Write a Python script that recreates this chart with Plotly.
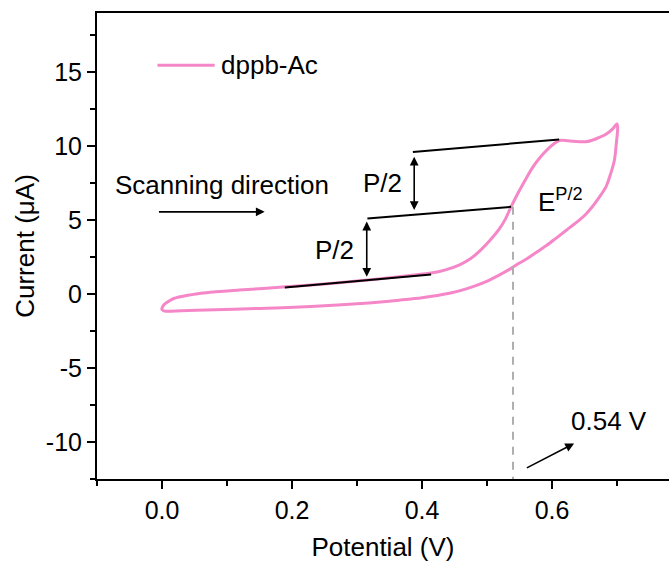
import plotly.graph_objects as go

# ---- data ----
series_name = "dppb-Ac"
fwd_V = [0.000, 0.003, 0.008, 0.018, 0.040, 0.068, 0.119, 0.191, 0.250, 0.300, 0.365, 0.414,
         0.435, 0.457, 0.475, 0.491, 0.505, 0.519, 0.528, 0.537, 0.548, 0.560, 0.570, 0.581,
         0.596, 0.611, 0.625, 0.642, 0.655, 0.668, 0.683, 0.693, 0.700]
fwd_I = [-0.95, -0.72, -0.55, -0.30, -0.08, 0.09, 0.27, 0.49, 0.68, 0.88, 1.18, 1.42,
         1.62, 1.96, 2.40, 3.00, 3.65, 4.40, 5.05, 5.90, 6.85, 7.80, 8.55, 9.20,
         9.90, 10.38, 10.36, 10.30, 10.32, 10.50, 10.80, 11.15, 11.50]
rev_V = [0.701, 0.699, 0.696, 0.690, 0.683, 0.672, 0.662, 0.652, 0.642, 0.631, 0.620, 0.604,
         0.592, 0.581, 0.570, 0.560, 0.548, 0.537, 0.515, 0.493, 0.468, 0.442, 0.400, 0.365,
         0.300, 0.221, 0.150, 0.068, 0.030, 0.004, 0.000]
rev_I = [11.2, 10.2, 9.05, 8.1, 7.25, 6.5, 5.9, 5.4, 5.0, 4.62, 4.25, 3.70,
         3.30, 2.97, 2.65, 2.35, 2.05, 1.74, 1.20, 0.74, 0.35, 0.05, -0.25, -0.41,
         -0.66, -0.86, -0.97, -1.08, -1.12, -1.15, -1.05]

baseline_V = [0.189, 0.414]
baseline_I = [0.45, 1.33]
halfline_V = [0.316, 0.537]
halfline_I = [5.11, 5.90]
peakline_V = [0.386, 0.611]
peakline_I = [9.61, 10.45]
E_half = 0.54
E_half_I = 5.90

x_ticks = [0.0, 0.2, 0.4, 0.6]
x_tick_labels = ["0.0", "0.2", "0.4", "0.6"]
y_ticks = [-10, -5, 0, 5, 10, 15]
y_tick_labels = ["-10", "-5", "0", "5", "10", "15"]

PINK = "rgb(245,135,200)"
FONT = "Liberation Sans, Arial, sans-serif"

fig = go.Figure()

V_all = fwd_V + rev_V + [fwd_V[0]]
I_all = fwd_I + rev_I + [fwd_I[0]]
fig.add_trace(go.Scatter(x=V_all, y=I_all, mode="lines", name=series_name,
                         line=dict(color=PINK, width=3, shape="spline", smoothing=0.8),
                         showlegend=False, hoverinfo="skip"))

for xs, ys in [(baseline_V, baseline_I), (halfline_V, halfline_I), (peakline_V, peakline_I)]:
    fig.add_trace(go.Scatter(x=xs, y=ys, mode="lines", line=dict(color="black", width=2),
                             showlegend=False, hoverinfo="skip"))

# dashed vertical at E^{P/2}
fig.add_trace(go.Scatter(x=[E_half, E_half], y=[E_half_I, -12.5], mode="lines",
                         line=dict(color="rgb(175,175,175)", width=2, dash="8px,7px"),
                         showlegend=False, hoverinfo="skip"))

# legend entry drawn by hand (longer line sample than plotly's legend)
fig.add_trace(go.Scatter(x=[-0.007, 0.081], y=[15.47, 15.47], mode="lines",
                         line=dict(color=PINK, width=3), showlegend=False, hoverinfo="skip"))

annotations = []
def txt(x, y, s, xanchor="center", size=26):
    annotations.append(dict(x=x, y=y, xref="x", yref="y", text=s, showarrow=False,
                            xanchor=xanchor, yanchor="middle",
                            font=dict(family=FONT, size=size, color="black")))

def arrow(x0, y0, x1, y1, both=False):
    annotations.append(dict(x=x1, y=y1, ax=x0, ay=y0, xref="x", yref="y", axref="x", ayref="y",
                            text="", showarrow=True, arrowhead=2, arrowsize=1.1, arrowwidth=1.6,
                            arrowcolor="black", arrowside="end+start" if both else "end",
                            startarrowhead=2, startarrowsize=1.1, standoff=0, startstandoff=0))

txt(0.088, 15.47, series_name, xanchor="left")
txt(0.092, 7.36, "Scanning direction")
arrow(-0.007, 5.56, 0.158, 5.56)
arrow(0.315, 5.00, 0.315, 1.17, both=True)
arrow(0.388, 9.39, 0.388, 5.68, both=True)
txt(0.265, 2.97, "P/2")
txt(0.339, 7.52, "P/2")
txt(0.575, 6.35, "E<sup>P/2</sup>", xanchor="left")
txt(0.688, -8.6, "0.54 V")
arrow(0.559, -11.8, 0.634, -10.1)

fig.update_layout(
    width=669, height=565,
    margin=dict(l=97, r=0, t=13, b=86),
    paper_bgcolor="white", plot_bgcolor="white",
    font=dict(family=FONT, size=25, color="black"),
    annotations=annotations,
    showlegend=False,
)
fig.update_xaxes(
    range=[-0.1, 0.78], tickvals=x_ticks, ticktext=x_tick_labels,
    showline=True, linecolor="black", linewidth=2, mirror=True,
    ticks="outside", ticklen=8, tickwidth=2, tickcolor="black",
    minor=dict(ticks="outside", ticklen=5, tickwidth=2, tickcolor="black", dtick=0.1, tick0=0),
    showgrid=False, zeroline=False,
    tickfont=dict(size=25),
    title=dict(text="Potential (V)", font=dict(size=26), standoff=15),
)
fig.update_yaxes(
    range=[-12.5, 19], tickvals=y_ticks, ticktext=y_tick_labels,
    showline=True, linecolor="black", linewidth=2, mirror=False,
    ticks="outside", ticklen=8, tickwidth=2, tickcolor="black",
    minor=dict(ticks="outside", ticklen=5, tickwidth=2, tickcolor="black", dtick=2.5, tick0=0),
    showgrid=False, zeroline=False,
    tickfont=dict(size=25),
    title=dict(text="Current (μA)", font=dict(size=26), standoff=4),
)

fig.write_html("out.html")
